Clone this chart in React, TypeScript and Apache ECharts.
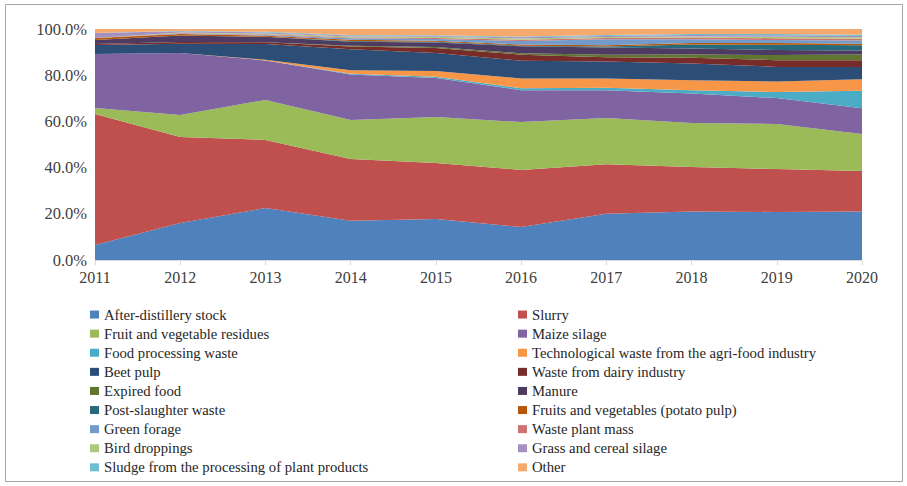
import React, { useEffect, useRef } from "react";
import * as echarts from "echarts";

const years = ["2011", "2012", "2013", "2014", "2015", "2016", "2017", "2018", "2019", "2020"];

const seriesNames = [
  "After-distillery stock",
  "Slurry",
  "Fruit and vegetable residues",
  "Maize silage",
  "Food processing waste",
  "Technological waste from the agri-food industry",
  "Beet pulp",
  "Waste from dairy industry",
  "Expired food",
  "Manure",
  "Post-slaughter waste",
  "Fruits and vegetables (potato pulp)",
  "Green forage",
  "Waste plant mass",
  "Bird droppings",
  "Grass and cereal silage",
  "Sludge from the processing of plant products",
  "Other",
];

const afterDistillery = [6.5, 16.0, 22.5, 17.0, 17.7, 14.3, 20.0, 21.0, 20.8, 21.0];
const slurry = [56.7, 37.2, 29.5, 26.7, 24.3, 24.7, 21.5, 19.3, 18.6, 17.5];
const fruitVeg = [2.6, 9.6, 17.3, 16.9, 19.9, 20.7, 20.0, 19.0, 19.5, 16.0];
const maizeSilage = [23.4, 26.8, 17.1, 19.7, 16.9, 13.8, 12.0, 12.8, 11.2, 11.2];
const foodProcessing = [0, 0, 0, 0.3, 0.5, 0.9, 1.1, 1.4, 2.6, 7.6];
const technological = [0, 0, 0.3, 1.5, 2.5, 4.2, 4.0, 4.3, 4.6, 5.0];
const beetPulp = [3.9, 4.0, 6.8, 9.1, 7.8, 7.7, 7.3, 7.3, 6.3, 5.3];
const dairy = [0.4, 0.8, 0.8, 1.2, 2.2, 2.6, 1.9, 2.5, 2.9, 2.9];
const expiredFood = [0, 0, 0, 0.3, 0.4, 0.6, 1.0, 1.4, 2.2, 2.5];
const manure = [1.7, 2.8, 2.3, 1.8, 2.0, 3.0, 3.2, 2.6, 2.2, 1.7];
const postSlaughter = [0, 0, 0, 0.3, 0.3, 0.3, 0.4, 1.7, 2.3, 2.3];
const potatoPulp = [0.9, 0.6, 0.5, 0.6, 0.4, 0.5, 0.6, 0.6, 0.7, 0.6];
const greenForage = [0, 0.3, 0.3, 0.6, 0.8, 1.5, 2.6, 1.7, 1.3, 1.4];
const wastePlantMass = [0, 0.2, 0.3, 0.3, 0.4, 0.5, 0.5, 0.7, 0.8, 0.8];
const birdDroppings = [0, 0.2, 0.3, 0.4, 0.5, 0.6, 0.4, 0.5, 0.6, 0.6];
const grassSilage = [2.2, 0.5, 0.5, 0.5, 0.4, 0.5, 0.5, 0.6, 0.7, 0.6];
const sludge = [0, 0.2, 0.3, 0.2, 0.3, 0.3, 0.4, 0.4, 0.5, 0.5];
const other = [1.7, 0.8, 1.2, 2.6, 2.7, 3.3, 2.6, 2.2, 2.2, 2.5];

const seriesValues = [
  afterDistillery, slurry, fruitVeg, maizeSilage, foodProcessing, technological,
  beetPulp, dairy, expiredFood, manure, postSlaughter, potatoPulp,
  greenForage, wastePlantMass, birdDroppings, grassSilage, sludge, other,
];

const colors = [
  "#4F81BD", "#C0504D", "#9BBB59", "#8064A2", "#4BACC6", "#F79646",
  "#2C4D75", "#772C2A", "#5F7530", "#4D3B62", "#276A7C", "#B65708",
  "#729ACA", "#CD7371", "#AFC97A", "#A491C1", "#6FBDD1", "#F6A96C",
];

const yTicks = [0, 20, 40, 60, 80, 100];

export default function App() {
  const ref = useRef<HTMLDivElement>(null);
  useEffect(() => {
    if (!ref.current) return;
    const chart = echarts.init(ref.current, undefined, { renderer: "svg" });
    const font = "'Liberation Serif', 'Times New Roman', serif";
    const leftNames = seriesNames.filter((_, i) => i % 2 === 0);
    const rightNames = seriesNames.filter((_, i) => i % 2 === 1);
    const legendCommon = {
      orient: "vertical" as const,
      top: 305,
      icon: "rect",
      itemWidth: 9,
      itemHeight: 8,
      itemGap: 0,
      textStyle: { fontFamily: font, fontSize: 14.7, color: "#262626", lineHeight: 19.1, padding: [0, 0, 0, 0] },
      padding: 0,
    };
    chart.setOption({
      animation: false,
      color: colors,
      textStyle: { fontFamily: font },
      grid: { left: 95, right: 45, top: 29, bottom: 226 },
      graphic: [
        {
          type: "rect",
          shape: { x: 5.5, y: 4.5, width: 897, height: 477 },
          style: { fill: "none", stroke: "#a6a6a6", lineWidth: 1 },
          silent: true,
        },
      ],
      legend: [
        { ...legendCommon, left: 90, data: leftNames },
        { ...legendCommon, left: 518, data: rightNames },
      ],
      xAxis: {
        type: "category",
        data: years,
        boundaryGap: false,
        axisLine: { lineStyle: { color: "#d9d9d9", width: 1 } },
        axisTick: { show: true, length: 5, lineStyle: { color: "#d9d9d9" } },
        axisLabel: { fontFamily: font, fontSize: 16, color: "#404040", margin: 9 },
        splitLine: { show: false },
      },
      yAxis: {
        type: "value",
        min: 0,
        max: 100,
        interval: 20,
        axisLine: { show: false },
        axisTick: { show: false },
        splitLine: { show: false },
        axisLabel: {
          fontFamily: font,
          fontSize: 16.5,
          color: "#404040",
          margin: 8,
          formatter: (v: number) => (yTicks.includes(v) ? v.toFixed(1) + "%" : ""),
        },
      },
      series: seriesNames.map((name, i) => ({
        name,
        type: "line",
        stack: "total",
        data: seriesValues[i],
        showSymbol: false,
        symbol: "none",
        lineStyle: { width: 0 },
        areaStyle: { color: colors[i], opacity: 1 },
        itemStyle: { color: colors[i] },
      })),
    });
    return () => chart.dispose();
  }, []);
  return (
    <div
      ref={ref}
      style={{ position: "fixed", left: 0, top: 0, width: 907, height: 486, background: "#fff" }}
    />
  );
}
